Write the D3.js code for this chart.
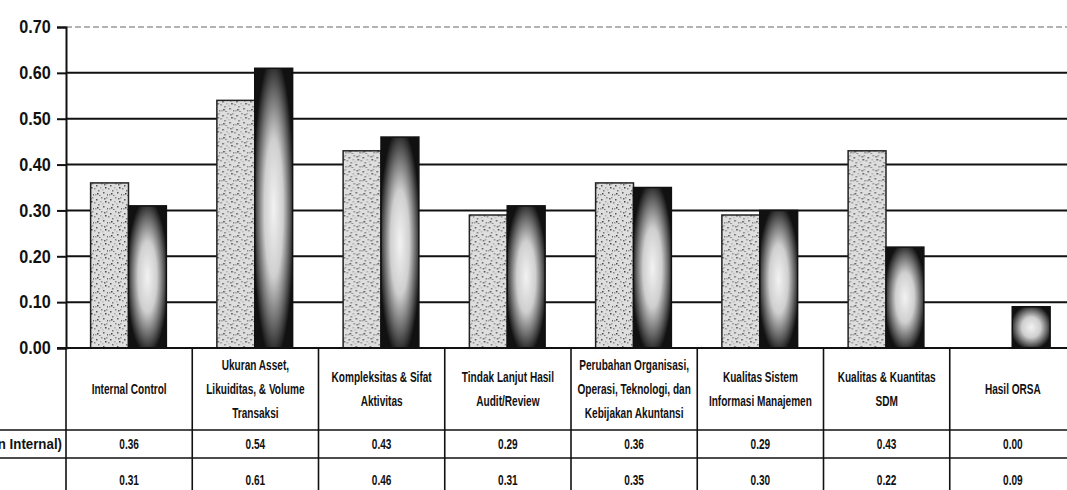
<!DOCTYPE html>
<html>
<head>
<meta charset="utf-8">
<script src="https://cdn.jsdelivr.net/npm/d3@7"></script>
<style>
  body { margin: 0; background: #fff; }
  svg { display: block; }
  .narrow { font-family: "Liberation Sans", Arial, sans-serif; }
</style>
</head>
<body>
<div id="chart"></div>
<script>
// categories (table header, wrapped lines)
const categories = [
    ['Internal Control'],
    ['Ukuran Asset,', 'Likuiditas, & Volume', 'Transaksi'],
    ['Kompleksitas & Sifat', 'Aktivitas'],
    ['Tindak Lanjut Hasil', 'Audit/Review'],
    ['Perubahan Organisasi,', 'Operasi, Teknologi, dan', 'Kebijakan Akuntansi'],
    ['Kualitas Sistem', 'Informasi Manajemen'],
    ['Kualitas & Kuantitas', 'SDM'],
    ['Hasil ORSA']
];
const seriesNames = ['Skor (Penilaian Internal)', 'Skor ORSA'];
const internalValues = [0.36, 0.54, 0.43, 0.29, 0.36, 0.29, 0.43, 0.00];
const orsaValues = [0.31, 0.61, 0.46, 0.31, 0.35, 0.30, 0.22, 0.09];
const yTicks = [0, 0.1, 0.2, 0.3, 0.4, 0.5, 0.6, 0.7];

const width = 1067, height = 490;
const plot = { left: 66, right: 1076, top: 27, bottom: 348 };
const table = { header: 430, row1: 458 };
const squeeze = 0.72; // the scanned table text is very condensed

const svg = d3.select('#chart').append('svg')
    .attr('width', width)
    .attr('height', height);

const defs = svg.append('defs');

// speckled texture for the first series
const pat = defs.append('pattern')
    .attr('id', 'speckle')
    .attr('patternUnits', 'userSpaceOnUse')
    .attr('width', 14).attr('height', 14);
pat.append('rect').attr('width', 14).attr('height', 14).attr('fill', '#dedede');
const specks = [[2, 3, '#555'], [7, 1, '#888'], [11, 5, '#444'], [4, 8, '#777'], [9, 10, '#5a5a5a'],
    [1, 12, '#999'], [13, 12, '#666'], [6, 5, '#aaa'], [12, 1, '#999'], [3, 11, '#444'],
    [8, 7, '#bbb'], [5, 13, '#777'], [10, 2, '#666'], [0, 6, '#888']];
specks.forEach(s => {
    pat.append('rect').attr('x', s[0]).attr('y', s[1]).attr('width', 1.5).attr('height', 1.5).attr('fill', s[2]);
});

// glowing cylinder look for the second series
const rg = defs.append('radialGradient').attr('id', 'glow')
    .attr('cx', '50%').attr('cy', '50%').attr('r', '55%');
rg.append('stop').attr('offset', '0%').attr('stop-color', '#f2f2f2');
rg.append('stop').attr('offset', '45%').attr('stop-color', '#cfcfcf');
rg.append('stop').attr('offset', '75%').attr('stop-color', '#6a6a6a');
rg.append('stop').attr('offset', '100%').attr('stop-color', '#111');

const x0 = d3.scaleBand()
    .domain(d3.range(categories.length))
    .range([plot.left, plot.right])
    .padding(0);

const x1 = d3.scaleBand()
    .domain([0, 1])
    .range([x0.bandwidth() * 0.195, x0.bandwidth() * 0.795]);

const y = d3.scaleLinear()
    .domain([0, 0.7])
    .range([plot.bottom, plot.top]);

// gridlines
svg.append('g').selectAll('line')
    .data(yTicks.filter(t => t > 0 && t < 0.7))
    .enter().append('line')
    .attr('x1', plot.left).attr('x2', width)
    .attr('y1', d => y(d)).attr('y2', d => y(d))
    .attr('stroke', '#111')
    .attr('stroke-width', 2);

svg.append('line')
    .attr('x1', plot.left).attr('x2', width)
    .attr('y1', y(0.7)).attr('y2', y(0.7))
    .attr('stroke', '#999')
    .attr('stroke-width', 1.5)
    .attr('stroke-dasharray', '6,3');

// bars
const groups = svg.append('g').selectAll('g')
    .data(categories.map((c, i) => i))
    .enter().append('g')
    .attr('transform', i => `translate(${x0(i)},0)`);

groups.append('rect')
    .attr('x', x1(0))
    .attr('y', i => y(internalValues[i]))
    .attr('width', x1.bandwidth())
    .attr('height', i => y(0) - y(internalValues[i]))
    .attr('fill', 'url(#speckle)')
    .attr('stroke', '#222')
    .attr('stroke-width', i => internalValues[i] > 0 ? 1.5 : 0);

groups.append('rect')
    .attr('x', x1(1))
    .attr('y', i => y(orsaValues[i]))
    .attr('width', x1.bandwidth())
    .attr('height', i => y(0) - y(orsaValues[i]))
    .attr('fill', 'url(#glow)')
    .attr('stroke', '#111')
    .attr('stroke-width', 1.5);

// y axis
const yAxis = svg.append('g')
    .attr('class', 'narrow')
    .attr('transform', `translate(${plot.left},0)`)
    .call(d3.axisLeft(y).tickValues(yTicks).tickSize(9).tickPadding(8).tickFormat(d3.format('.2f')));
yAxis.select('.domain').attr('stroke', '#111').attr('stroke-width', 2);
yAxis.selectAll('.tick line').attr('stroke', '#111').attr('stroke-width', 2);
yAxis.selectAll('.tick text')
    .attr('fill', '#111')
    .attr('transform', 'scale(0.9,1)')
    .style('font-size', '18px')
    .style('font-weight', 'bold');

// data table lines
svg.append('line').attr('x1', plot.left - 9).attr('x2', width)
    .attr('y1', plot.bottom).attr('y2', plot.bottom)
    .attr('stroke', '#111').attr('stroke-width', 2);
[table.header, table.row1].forEach(yy => {
    svg.append('line').attr('x1', 0).attr('x2', width)
        .attr('y1', yy).attr('y2', yy)
        .attr('stroke', '#111').attr('stroke-width', 1.6);
});
svg.append('g').selectAll('line')
    .data(d3.range(categories.length + 1))
    .enter().append('line')
    .attr('x1', i => plot.left + i * x0.bandwidth())
    .attr('x2', i => plot.left + i * x0.bandwidth())
    .attr('y1', plot.bottom).attr('y2', height)
    .attr('stroke', '#111').attr('stroke-width', 1.6);

// condensed text helper: position a group, squeeze it horizontally
function narrowText(parent, x, yy, anchor, k) {
    return parent.append('g')
        .attr('transform', `translate(${x},${yy}) scale(${k || squeeze},1)`)
        .append('text')
        .attr('text-anchor', anchor);
}

// header text
const headerMid = (plot.bottom + table.header) / 2;
const lineH = 24;
const header = svg.append('g').attr('class', 'narrow')
    .style('font-size', '14px').style('font-weight', 'bold').attr('fill', '#111');
categories.forEach((lines, i) => {
    const t = narrowText(header, x0(i) + x0.bandwidth() / 2, headerMid, 'middle');
    lines.forEach((ln, k) => {
        t.append('tspan')
            .attr('x', 0)
            .attr('y', (k - (lines.length - 1) / 2) * lineH)
            .attr('dy', '0.35em')
            .text(ln);
    });
});

// value rows (the series name of the first row is cut by the left edge, as in the scan)
const rows = [
    { name: seriesNames[0], values: internalValues, y: (table.header + table.row1) / 2 },
    { name: null, values: orsaValues, y: table.row1 + 22 }
];
const body = svg.append('g').attr('class', 'narrow')
    .style('font-size', '14px').style('font-weight', 'bold').attr('fill', '#111');
rows.forEach(r => {
    if (r.name) {
        narrowText(body, plot.left - 4, r.y, 'end', 0.95)
            .attr('dy', '0.35em')
            .text(r.name);
    }
    r.values.forEach((v, i) => {
        narrowText(body, x0(i) + x0.bandwidth() / 2, r.y, 'middle')
            .attr('dy', '0.35em')
            .text(d3.format('.2f')(v));
    });
});
</script>
</body>
</html>
